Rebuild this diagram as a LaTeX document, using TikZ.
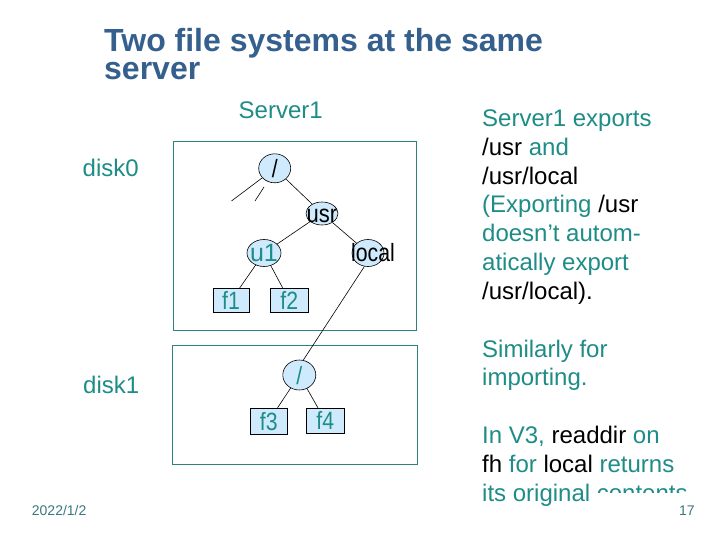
\documentclass[tikz,border=0pt]{standalone}
\usepackage{fontspec}
\usepackage{graphicx}
\setmainfont{Liberation Sans}
\usetikzlibrary{shapes.geometric}
\definecolor{tealtxt}{RGB}{30,140,135}
\definecolor{boxline}{RGB}{45,130,128}
\definecolor{nodefill}{RGB}{206,234,252}
\definecolor{titlecol}{RGB}{53,96,142}
\definecolor{footcol}{RGB}{60,120,128}
\newcommand\cnd[1]{\scalebox{0.85}[1]{#1}}
\newcommand\zt[2][0pt]{\makebox[0pt]{\hspace*{#1}\raisebox{-0.36em}[0pt][0pt]{#2}}}
\tikzset{
  dirnode/.style={ellipse,draw=black,fill=nodefill,inner sep=0pt,line width=0.6pt},
  filenode/.style={rectangle,draw=black,fill=nodefill,inner sep=0pt,line width=0.6pt,text=tealtxt},
  edge/.style={draw=black,line width=0.6pt},
  fsbox/.style={draw=boxline,line width=1pt},
  txt/.style={anchor=base west,inner sep=0pt,font=\fontsize{24}{24}\selectfont,text=tealtxt},
  title/.style={anchor=base west,inner sep=0pt,font=\fontsize{32}{32}\selectfont\bfseries,text=titlecol},
  foot/.style={anchor=base west,inner sep=0pt,font=\fontsize{14}{14}\selectfont,text=footcol},
  ntxt/.style={font=\fontsize{25}{25}\selectfont}
}
\begin{document}
\begin{tikzpicture}[x=1pt,y=-1pt]
\useasboundingbox (0,0) rectangle (720,540);
\fill[white] (0,0) rectangle (720,540);
% title
\node[title] (t1) at (104,52) {Two file systems at the same};
\node[title] (t2) at (104,80) {server};
% labels
\node[txt] (srv) at (238.5,119) {Server1};
\node[txt] (d0) at (82.5,176.7) {disk0};
\node[txt] (d1) at (83,393.3) {disk1};
% boxes
\draw[fsbox] (173,142) rectangle (416.5,330);
\draw[fsbox] (172.5,345) rectangle (417,464);
% tree disk0
\node[dirnode,minimum width=32pt,minimum height=29pt,ntxt] (root1) at (274.7,168.3) {\zt{\cnd{/}}};
\node[dirnode,minimum width=32pt,minimum height=23pt,ntxt] (usr) at (322,213.5) {\zt{\scalebox{0.88}[1]{usr}}};
\node[dirnode,minimum width=34pt,minimum height=27pt,ntxt,text=tealtxt] (u1) at (264,253) {\zt{u1}};
\node[dirnode,minimum width=32pt,minimum height=27pt,ntxt] (local) at (368,253) {\zt[10pt]{\cnd{local}}};
\node[filenode,minimum width=36pt,minimum height=24pt,ntxt] (f1) at (231,300.5) {\zt{\cnd{f1}}};
\node[filenode,minimum width=37.5pt,minimum height=24.5pt,ntxt] (f2) at (289.3,300.3) {\zt{\cnd{f2}}};
\coordinate (da1) at (262,178);
\coordinate (db1) at (231.5,201);
\coordinate (da2) at (264,187);
\coordinate (db2) at (255,201);
\draw[edge] (da1) -- (db1);
\draw[edge] (da2) -- (db2);
\draw[edge] (root1) -- (usr);
\draw[edge] (usr) -- (u1);
\draw[edge] (usr) -- (local);
\draw[edge] (u1) -- (f1);
\draw[edge] (u1) -- (f2);
% tree disk1
\node[dirnode,minimum width=33pt,minimum height=30pt,ntxt,text=tealtxt] (root2) at (299.3,375) {\zt{\cnd{/}}};
\node[filenode,minimum width=37pt,minimum height=25.7pt,ntxt] (f3) at (268.8,421) {\zt{\cnd{f3}}};
\node[filenode,minimum width=38pt,minimum height=25pt,ntxt] (f4) at (325.3,420.8) {\zt{\cnd{f4}}};
\draw[edge] (root2) -- (f3);
\draw[edge] (root2) -- (f4);
\draw[edge] (local.255) -- (root2.75);
% right text
\node[txt] (r1) at (482,126.7) {Server1 exports};
\node[txt] (r2) at (482,155.5) {\textcolor{black}{/usr} and};
\node[txt] (r3) at (482,184.3) {\textcolor{black}{/usr/local}};
\node[txt] (r4) at (482,213) {(Exporting \textcolor{black}{/usr}};
\node[txt] (r5) at (482,241.8) {doesn’t autom-};
\node[txt] (r6) at (482,270.6) {atically export};
\node[txt] (r7) at (482,299.4) {\textcolor{black}{/usr/local).}};
\node[txt] (r8) at (482,357) {Similarly for};
\node[txt] (r9) at (482,385.8) {importing.};
\node[txt] (r10) at (482,443.4) {In V3, \textcolor{black}{readdir} on};
\node[txt] (r11) at (482,472.2) {\textcolor{black}{fh} for \textcolor{black}{local} returns};
\node[txt] (r12) at (482,501) {its original contents};
\fill[white] (592,493) rectangle (720,540);
% footer
\node[foot] (date) at (31.7,515.7) {2022/1/2};
\node[foot] (pg) at (679,515) {17};
\end{tikzpicture}
\end{document}
